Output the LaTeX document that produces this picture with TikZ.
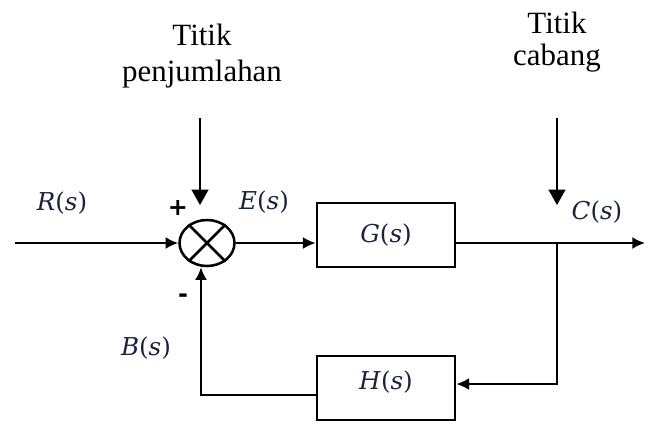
\documentclass[tikz,border=0pt]{standalone}
\usepackage{fontspec}
\setmainfont{Liberation Serif}
\newfontfamily\sigfont{DejaVu Serif}
\newfontfamily\signfont{DejaVu Sans}
\usepackage{tikz}
\usetikzlibrary{arrows.meta,shapes,calc}

\definecolor{sigcol}{RGB}{25,35,60}
\newcommand{\sigof}[1]{{\sigfont\textit{#1}(\textit{s})}}

\tikzset{
  blockbox/.style={draw, line width=2pt, minimum width=3.45cm, minimum height=1.6cm,
    inner sep=0pt, font=\fontsize{17.5}{20}\selectfont, text=sigcol},
  sumnode/.style={draw, ellipse, line width=1.8pt, minimum width=1.375cm,
    minimum height=1.15cm, inner sep=0pt},
  sig/.style={-{Latex[length=9pt,width=8.5pt]}, line width=1.4pt},
  pointer/.style={-{Triangle[length=11pt,width=12pt]}, line width=1.4pt},
  siglabel/.style={font=\fontsize{17.5}{20}\selectfont, text=sigcol},
  signlabel/.style={font=\fontsize{17}{18}\selectfont\signfont\bfseries}
}

\begin{document}
\begin{tikzpicture}[x=0.025cm, y=-0.025cm]
      \useasboundingbox (0,0) rectangle (645,422);
      % Loop points
      \coordinate (in) at (15,243);
      \coordinate (out) at (645,243);
      \coordinate (branch) at (557,243);
      \coordinate (fbturn) at (201,395);
      \coordinate (sumtail) at (200,118);
      \coordinate (sumtip) at (200,205);
      \coordinate (branchtail) at (557,118);
      \coordinate (branchtip) at (557,205);
      % Blocks
      \node [sumnode] (sum) at (207,243) {};
      \draw [line width=1.8pt] (sum.45) -- (sum.225) (sum.135) -- (sum.-45);
      \node [blockbox] (G) at (386,235) {\sigof{G}};
      \node [blockbox] (H) at (386,388) {};
      \node [siglabel] (Hlab) at ($ (H.center)+(0,-6) $) {\sigof{H}};
      % Signals
      \node [siglabel] (Rlab) at (62,203) {\sigof{R}};
      \node [siglabel] (Elab) at (264,202) {\sigof{E}};
      \node [siglabel] (Clab) at (597,212) {\sigof{C}};
      \node [siglabel] (Blab) at (146,348) {\sigof{B}};
      \node [signlabel] (plus) at (178,208) {+};
      \node [signlabel] (minus) at (183,298) {-};
      % Notes
      \node [font=\fontsize{22}{26.2}\selectfont, align=center] (sumnote) at (202,56) {Titik\\penjumlahan};
      \node [font=\fontsize{22}{22.7}\selectfont, align=center] (branchnote) at (557,42) {Titik\\cabang};
      % Forward path
      \draw [sig] (in) -- (sum.west);
      \draw [sig] (sum.east) -- (sum.east -| G.west);
      \draw [line width=1.4pt] (G.east |- branch) -- (branch);
      \draw [sig] (branch) -- (out);
      % Feedback path
      \draw [sig] (branch) |- ($ (H.east)+(0,-4) $);
      \draw [sig] (H.west |- fbturn) -- (fbturn) -- (fbturn |- sum.south);
      % Pointers
      \draw [pointer] (sumtail) -- (sumtip);
      \draw [pointer] (branchtail) -- (branchtip);
\end{tikzpicture}
\end{document}
